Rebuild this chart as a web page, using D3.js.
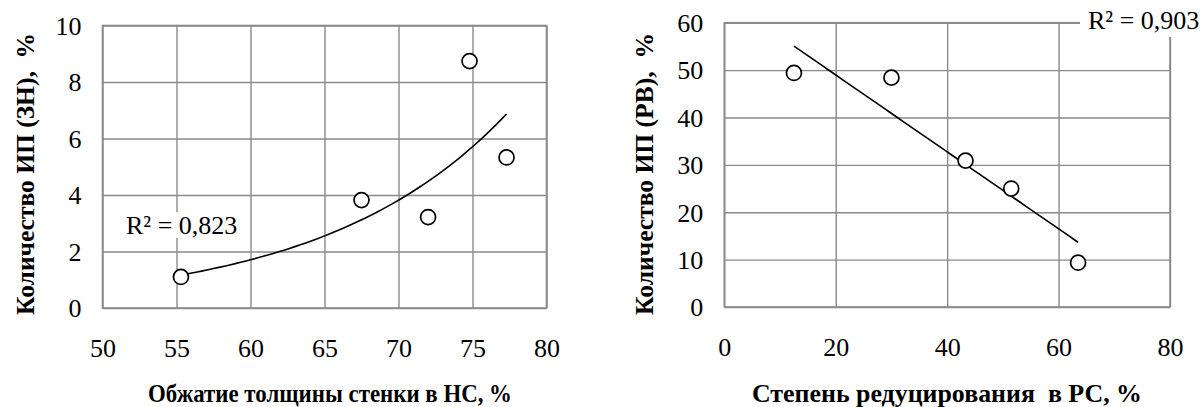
<!DOCTYPE html>
<html><head><meta charset="utf-8">
<script src="https://cdn.jsdelivr.net/npm/d3@7"></script>
<style>
html,body{margin:0;padding:0;background:#fff;}
svg{display:block;}
text{font-family:"Liberation Serif","Times New Roman",serif;fill:#000;}
</style></head>
<body>
<svg id="c" width="1200" height="407"></svg>
<script>
// ---- data ----
const leftX = [55.3, 67.5, 72.0, 74.8, 77.3];
const leftY = [1.1, 3.82, 3.22, 8.74, 5.33];
const leftXTicks = [50, 55, 60, 65, 70, 75, 80];
const leftYTicks = [0, 2, 4, 6, 8, 10];
const leftXTitle = "Обжатие толщины стенки в НС, %";
const leftYTitle = "Количество ИП (ЗН),  %";
const leftR2 = "R² = 0,823";

const rightX = [12.5, 30.0, 43.3, 51.5, 63.5];
const rightY = [49.4, 48.4, 30.9, 25.0, 9.35];
const rightXTicks = [0, 20, 40, 60, 80];
const rightYTicks = [0, 10, 20, 30, 40, 50, 60];
const rightXTitle = "Степень редуцирования  в РС, %";
const rightYTitle = "Количество ИП (РВ),  %";
const rightR2 = "R² = 0,903";

const svg = d3.select("#c");
const GRID = "#8a8a8a";

function linFit(xs, ys){
  const n = xs.length, mx = d3.mean(xs), my = d3.mean(ys);
  let sxy=0,sxx=0;
  for(let i=0;i<n;i++){sxy+=(xs[i]-mx)*(ys[i]-my);sxx+=(xs[i]-mx)**2;}
  const b=sxy/sxx; return {a:my-b*mx,b};
}

function panel(o){
  const g = svg.append("g");
  const x = d3.scaleLinear().domain(o.xDom).range(o.xRange);
  const y = d3.scaleLinear().domain(o.yDom).range(o.yRange);
  const [x0,x1]=o.xRange, [y0,y1]=o.yRange; // y0 bottom, y1 top

  const gx = g.append("g").attr("transform",`translate(0,${y0})`)
    .call(d3.axisBottom(x).tickValues(o.xTicks).tickSize(-(y0-y1)).tickFormat(""));
  gx.select(".domain").remove();
  gx.selectAll("line").attr("stroke",GRID).attr("stroke-width",1.4);
  const gy = g.append("g").attr("transform",`translate(${x0},0)`)
    .call(d3.axisLeft(y).tickValues(o.yTicks).tickSize(-(x1-x0)).tickFormat(""));
  gy.select(".domain").remove();
  gy.selectAll("line").attr("stroke",GRID).attr("stroke-width",1.4);
  g.append("rect").attr("x",x0).attr("y",y1).attr("width",x1-x0).attr("height",y0-y1)
    .attr("fill","none").attr("stroke",GRID).attr("stroke-width",1.6);

  const tx = g.append("g").attr("transform",`translate(0,${y0+40})`)
    .call(d3.axisBottom(x).tickValues(o.xTicks).tickSize(0).tickPadding(0).tickFormat(d3.format("d")));
  tx.select(".domain").remove();
  tx.selectAll("text").attr("font-size",26).attr("dy","0.34em").attr("font-family",'"Liberation Serif",serif');
  const ty = g.append("g").attr("transform",`translate(${x0-21},0)`)
    .call(d3.axisLeft(y).tickValues(o.yTicks).tickSize(0).tickPadding(0).tickFormat(d3.format("d")));
  ty.select(".domain").remove();
  ty.selectAll("text").attr("font-size",26).attr("dy","0.34em").attr("font-family",'"Liberation Serif",serif');

  let fx;
  if(o.fit==="exp"){
    const f = linFit(o.xs, o.ys.map(Math.log));
    fx = v=>Math.exp(f.a+f.b*v);
  } else {
    const f = linFit(o.xs, o.ys);
    fx = v=>f.a+f.b*v;
  }
  const xmin=d3.min(o.xs), xmax=d3.max(o.xs);
  const samples = d3.range(0,61).map(i=>xmin+(xmax-xmin)*i/60);
  g.append("path").attr("d",d3.line().x(d=>x(d)).y(d=>y(fx(d)))(samples))
    .attr("fill","none").attr("stroke","#000").attr("stroke-width",1.6);

  g.selectAll("circle.pt").data(o.xs.map((v,i)=>[v,o.ys[i]])).join("circle")
    .attr("class","pt").attr("cx",d=>x(d[0])).attr("cy",d=>y(d[1])).attr("r",7.5)
    .attr("fill","#fff").attr("stroke","#000").attr("stroke-width",1.7);

  const bgRect = g.append("rect").attr("fill","#fff");
  const lab = g.append("text").attr("x",o.r2Pos[0]).attr("y",o.r2Pos[1])
    .attr("font-size",26).attr("dy","0.34em").text(o.r2);
  const bb = lab.node().getBBox();
  bgRect.attr("x",bb.x-o.r2Pad[0]).attr("y",o.r2Pos[1]-o.r2Pad[1])
    .attr("width",bb.width+2*o.r2Pad[0]).attr("height",2*o.r2Pad[1]);

  g.append("text").attr("x",o.xTitleX).attr("y",o.xTitleY).attr("text-anchor","middle")
    .attr("font-size",25).attr("font-weight","bold").attr("dy","0.34em")
    .attr("textLength",o.xTitleLen).attr("lengthAdjust","spacingAndGlyphs")
    .style("white-space","pre").text(o.xTitle);
  g.append("text").attr("transform",`translate(${o.yTitleX},${o.yTitleC}) rotate(-90)`)
    .attr("text-anchor","middle").attr("font-size",25).attr("font-weight","bold").attr("dy","0.34em")
    .attr("textLength",o.yTitleLen).attr("lengthAdjust","spacingAndGlyphs")
    .style("white-space","pre").text(o.yTitle);
}

panel({xs:leftX, ys:leftY, xDom:[50,80], yDom:[0,10], xRange:[102.5,546.5], yRange:[308,25.5],
  xTicks:leftXTicks, yTicks:leftYTicks, fit:"exp", r2:leftR2, r2Pos:[126,225], r2Pad:[4,13],
  xTitle:leftXTitle, xTitleX:330, xTitleY:393, xTitleLen:364,
  yTitle:leftYTitle, yTitleX:25, yTitleC:174, yTitleLen:282});

panel({xs:rightX, ys:rightY, xDom:[0,80], yDom:[0,60], xRange:[724.3,1170], yRange:[307,22.7],
  xTicks:rightXTicks, yTicks:rightYTicks, fit:"lin", r2:rightR2, r2Pos:[1088,20], r2Pad:[8,17],
  xTitle:rightXTitle, xTitleX:947, xTitleY:393, xTitleLen:390,
  yTitle:rightYTitle, yTitleX:644, yTitleC:174, yTitleLen:282});
</script>
</body></html>
